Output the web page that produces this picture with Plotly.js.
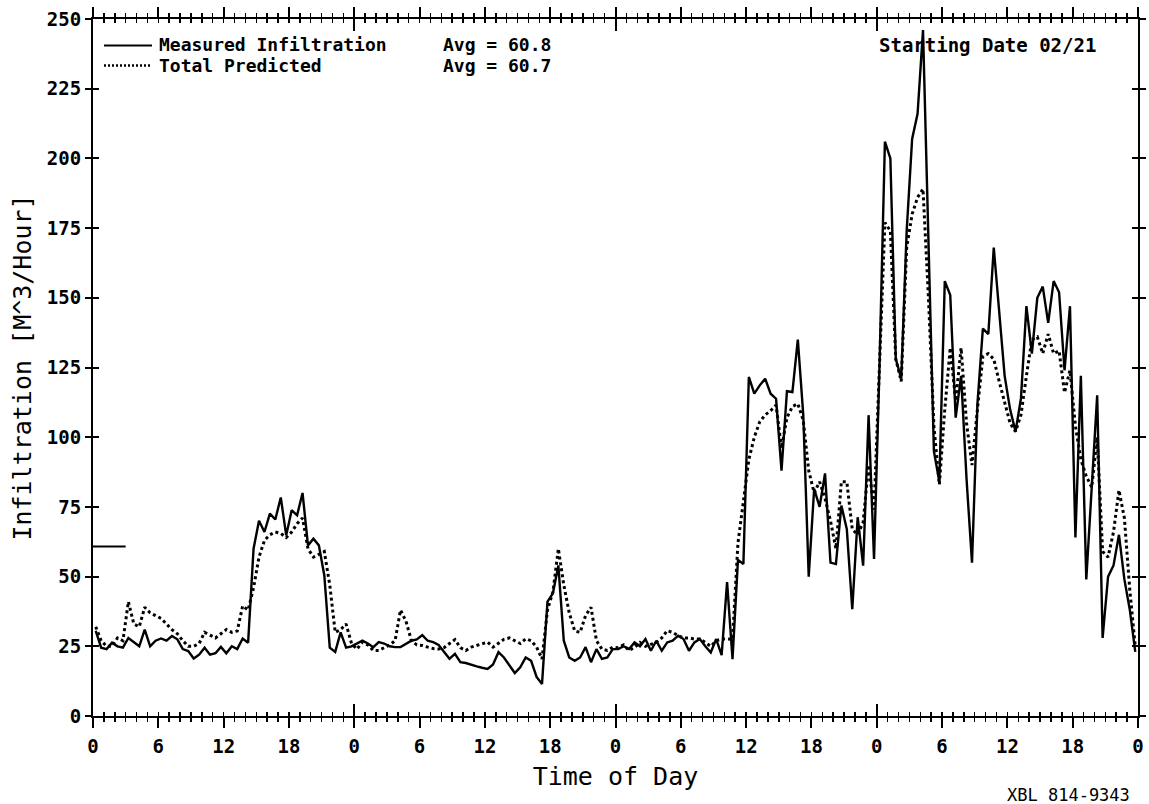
<!DOCTYPE html>
<html>
<head>
<meta charset="utf-8">
<script src="https://cdn.plot.ly/plotly-3.0.1.min.js"></script>
<style>html,body{margin:0;padding:0;background:#fff;}#chart{width:1149px;height:804px;}</style>
</head>
<body>
<div id="chart"></div>
<script>
// Half-hourly values (plotted at the middle of each half hour), 4 days starting 02/21
const measured = [
  // day 1
  30.5, 24.5, 24, 26.3, 25, 24.5, 28, 26.5, 25, 31, 25, 27, 27.8, 27, 28.7, 27.5,
  24, 23.3, 20.6, 22, 24.5, 22, 22.5, 24.8, 22.5, 25, 24, 27.8, 26.3, 60, 70, 66,
  72.6, 70.5, 78.4, 64.8, 73.8, 72, 80, 61.2, 63.6, 61.2, 50.4, 24.5, 23, 30, 24.5, 25,
  // day 2
  26, 27, 26, 24.7, 26.5, 26, 25, 24.7, 24.7, 26, 27, 27.5, 29, 27, 26.5, 25.5,
  23, 20.5, 22.3, 19.3, 19, 18.3, 17.8, 17.3, 16.9, 18.5, 22.9, 21, 18, 15.4, 17.5, 21,
  19.8, 14, 11.5, 41, 44, 54, 27, 21, 19.8, 21, 24.7, 19.3, 24, 20.5, 21, 24,
  // day 3
  24, 25, 24, 26.4, 25, 27.6, 23.4, 27, 23.4, 26.4, 27, 28.8, 27.6, 23.4, 26.4, 27.6,
  25, 22.8, 27.6, 21.8, 48, 20.4, 56, 54.5, 121.6, 115.6, 118.6, 121, 115.6, 113.8, 88, 116.5,
  116.2, 135, 108, 50, 81.5, 75, 87, 55, 54.5, 75.5, 67, 38.3, 71.3, 53.9, 107.9, 56.3,
  // day 4
  125, 206, 200, 128, 121, 174, 207, 216, 246, 175, 95, 84, 156, 151, 107, 122,
  85, 55, 112, 139, 137, 168, 144, 122, 110, 102, 114, 147, 130, 150, 154, 141,
  156, 152, 124, 147, 64, 122, 49, 82, 115, 28, 50, 54, 65, 49, 38, 23
];
const predicted = [
  // day 1
  32, 27, 25, 25, 28, 27, 41, 33, 32, 39, 37, 36, 35, 33, 31, 29.5,
  27, 25, 25, 26, 30, 29, 28, 29.5, 31, 30, 30.5, 39.5, 38, 46, 57, 63,
  65, 66, 65.5, 64, 66, 69, 71, 60, 57, 58, 59, 47, 30, 31, 33, 26,
  // day 2
  24, 26.5, 25.5, 23.5, 23.5, 24.5, 25.5, 27, 38, 34, 27, 25.5, 25.3, 24.7, 24.2, 24,
  24.5, 26, 27.4, 24.5, 23.5, 24.7, 25.3, 26, 26.5, 24.7, 26.2, 27.5, 28, 27, 26, 27.7,
  27, 24.7, 20.5, 38, 44.5, 60, 47, 37, 30.5, 30, 36, 39, 27, 24, 23.5, 24.7,
  // day 3
  24.5, 25.5, 23.5, 24.6, 26.4, 25, 25.8, 26.4, 28, 30.6, 30, 28.8, 28, 28, 27.6, 27.6,
  26.4, 25, 27, 27.6, 27.6, 27.5, 62, 78, 92, 100, 105.5, 108, 109.5, 111.5, 96, 107,
  111, 112, 106, 88, 80, 84, 78, 70, 60, 84, 84, 67, 65, 69.5, 90, 74,
  // day 4
  125, 177, 174, 128, 120, 168, 180, 186, 189, 150, 104, 83, 110, 132, 113, 132,
  105, 90, 110, 129, 130, 128, 120, 112, 105, 102, 108, 122, 135, 136, 130, 137,
  130, 131, 116, 124, 104, 92, 86, 82, 100, 59, 57, 66, 81, 71, 45, 25
];
const hours = measured.map((_, i) => 0.25 + 0.5 * i);

const tickHours = [0, 6, 12, 18, 24, 30, 36, 42, 48, 54, 60, 66, 72, 78, 84, 90, 96];
const tickLabels = ['0', '6', '12', '18', '0', '6', '12', '18', '0', '6', '12', '18', '0', '6', '12', '18', '0'];
const dayStarts = [0, 24, 48, 72, 96];

const seriesNames = ['Measured Infiltration', 'Total Predicted'];
const avgMeasured = 60.8;
const avgPredicted = 60.7;
const avgMarkHours = [0, 3];
const startingDate = '02/21';
const figureCode = 'XBL 814-9343';

const MONO = 'DejaVu Sans Mono';
const L = 93, R = 11, T = 19, B = 88, W = 1149, H = 804;
const PW = W - L - R, PH = H - T - B;
const px = x => (x - L) / PW;
const py = y => 1 - (y - T) / PH;

const traces = [
  {x: hours, y: measured, type: 'scatter', mode: 'lines', name: seriesNames[0],
   line: {color: '#000', width: 2.4}, showlegend: false},
  {x: hours, y: predicted, type: 'scatter', mode: 'lines', name: seriesNames[1],
   line: {color: '#000', width: 3, dash: '3px,3px'}, showlegend: false},
  {x: avgMarkHours, y: [avgMeasured, avgMeasured], type: 'scatter', mode: 'lines',
   line: {color: '#000', width: 2}, showlegend: false, hoverinfo: 'skip'},
  {x: [null], y: [null], xaxis: 'x2', yaxis: 'y2', type: 'scatter', mode: 'lines', showlegend: false, hoverinfo: 'skip'}
];

const tickFont = {family: MONO, size: 19, color: '#000', weight: 'bold'};
const textFont = {family: MONO, size: 18, color: '#000', weight: 'bold'};
const ROW1 = 44.5, ROW2 = 65.5;

const layout = {
  width: W, height: H,
  margin: {l: L, r: R, t: T, b: B},
  paper_bgcolor: '#fff', plot_bgcolor: '#fff',
  showlegend: false,
  xaxis: {
    range: [0, 96], tickmode: 'array', tickvals: tickHours, ticktext: tickLabels,
    ticks: 'outside', ticklen: 10, tickwidth: 2, tickcolor: '#000',
    minor: {tickmode: 'linear', tick0: 0, dtick: 1, ticks: 'outside', ticklen: 4, tickwidth: 1.5, tickcolor: '#000', showgrid: false},
    showline: true, linecolor: '#000', linewidth: 2, mirror: 'ticks',
    showgrid: false, zeroline: false, tickfont: tickFont, ticklabelstandoff: 2,
    title: {text: 'Time of Day', font: {family: MONO, size: 25, color: '#000'}, standoff: 12}
  },
  xaxis2: {
    overlaying: 'x', range: [0, 96], tickmode: 'array', tickvals: dayStarts,
    ticks: 'inside', ticklen: 12, tickwidth: 2, tickcolor: '#000',
    minor: {tickmode: 'linear', tick0: 0, dtick: 1, ticks: 'inside', ticklen: 4, tickwidth: 1.5, tickcolor: '#000', showgrid: false},
    showticklabels: false, showline: false, mirror: 'ticks', showgrid: false, zeroline: false
  },
  yaxis: {
    range: [0, 250], tickmode: 'linear', tick0: 0, dtick: 25,
    ticks: 'outside', ticklen: 6, tickwidth: 2, tickcolor: '#000',
    showline: true, linecolor: '#000', linewidth: 2, mirror: 'ticks',
    showgrid: false, zeroline: false, tickfont: tickFont,
    title: {text: 'Infiltration [M^3/Hour]', font: {family: MONO, size: 25, color: '#000'}, standoff: 8}
  },
  yaxis2: {
    overlaying: 'y', range: [0, 250], tickmode: 'linear', tick0: 0, dtick: 25,
    ticks: 'inside', ticklen: 6, tickwidth: 2, tickcolor: '#000',
    showticklabels: false, showline: false, mirror: 'ticks', showgrid: false, zeroline: false
  },
  shapes: [
    {type: 'line', xref: 'paper', yref: 'paper', x0: px(104), x1: px(152), y0: py(ROW1 + 1), y1: py(ROW1 + 1),
     line: {color: '#000', width: 2}},
    {type: 'line', xref: 'paper', yref: 'paper', x0: px(104), x1: px(152), y0: py(ROW2), y1: py(ROW2),
     line: {color: '#000', width: 2.5, dash: '2px,2px'}}
  ],
  annotations: [
    {xref: 'paper', yref: 'paper', x: px(157), y: py(ROW1), xanchor: 'left', yanchor: 'middle',
     text: seriesNames[0], showarrow: false, font: textFont},
    {xref: 'paper', yref: 'paper', x: px(157), y: py(ROW2), xanchor: 'left', yanchor: 'middle',
     text: seriesNames[1], showarrow: false, font: textFont},
    {xref: 'paper', yref: 'paper', x: px(441), y: py(ROW1), xanchor: 'left', yanchor: 'middle',
     text: 'Avg = ' + avgMeasured.toFixed(1), showarrow: false, font: textFont},
    {xref: 'paper', yref: 'paper', x: px(441), y: py(ROW2), xanchor: 'left', yanchor: 'middle',
     text: 'Avg = ' + avgPredicted.toFixed(1), showarrow: false, font: textFont},
    {xref: 'paper', yref: 'paper', x: px(877), y: py(ROW1), xanchor: 'left', yanchor: 'middle',
     text: 'Starting Date ' + startingDate, showarrow: false, font: {family: MONO, size: 19, color: '#000', weight: 'bold'}},
    {xref: 'paper', yref: 'paper', x: px(1005), y: py(795), xanchor: 'left', yanchor: 'middle',
     text: figureCode, showarrow: false, font: {family: MONO, size: 17, color: '#000'}}
  ]
};

Plotly.newPlot('chart', traces, layout, {displayModeBar: false, staticPlot: true});
</script>
</body>
</html>
